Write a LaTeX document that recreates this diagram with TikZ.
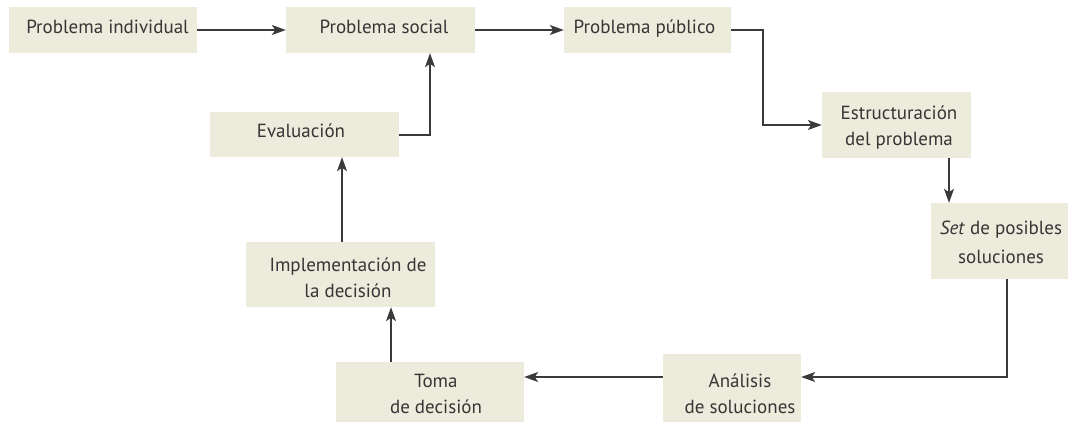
\documentclass[tikz,border=0pt]{standalone}
\usepackage{fontspec}
\setmainfont{PT Sans}
\usetikzlibrary{arrows.meta,calc}
\definecolor{boxfill}{HTML}{ECEBDC}
\definecolor{ink}{HTML}{363636}
\definecolor{wire}{HTML}{3A3A3A}
\begin{document}
\begin{tikzpicture}[x=1pt,y=-1pt,
  box/.style={fill=boxfill, draw=none, inner sep=0pt},
  txt/.style={text=ink, font=\fontsize{19}{26}\selectfont, inner sep=0pt, align=center},
  conn/.style={draw=wire, line width=1.3pt, -{Stealth[length=14pt,width=10pt,inset=3.5pt]}}]
\useasboundingbox (0,0) rectangle (1068,422);
% boxes
\node[box, minimum width=188, minimum height=46] (pi) at (103,30) {};
\node[box, minimum width=189, minimum height=46] (ps) at (380.5,30) {};
\node[box, minimum width=167, minimum height=46] (pp) at (647.5,30) {};
\node[box, minimum width=189, minimum height=45] (ev) at (304.5,134.5) {};
\node[box, minimum width=149, minimum height=66] (es) at (896.5,125) {};
\node[box, minimum width=137, minimum height=76] (st) at (999.5,241) {};
\node[box, minimum width=189, minimum height=65] (im) at (340.5,274.5) {};
\node[box, minimum width=188, minimum height=60] (tm) at (430,392) {};
\node[box, minimum width=138, minimum height=68] (an) at (732,388) {};
% texts
\node[txt, anchor=base] (pit) at (107.5,34) {Problema individual};
\node[txt, anchor=base] (pst) at (384,34) {Problema social};
\node[txt, anchor=base] (ppt) at (644.5,34) {Problema público};
\node[txt, anchor=base] (evt) at (301,138) {Evaluación};
\node[txt] (est) at (899,128) {Estructuración\\del problema};
\node[txt, font=\fontsize{19}{29}\selectfont] (stt) at (1001,242) {\textit{Set} de posibles\\soluciones};
\node[txt] (imt) at (348,278) {Implementación de\\la decisión};
\node[txt] (tmt) at (436,394) {Toma\\de decisión};
\node[txt] (ant) at (740,394) {Análisis\\de soluciones};
% bend points
\coordinate (b1) at (763,30);
\coordinate (b2) at (949,0);
\coordinate (b3) at (1007,377);
\coordinate (b4) at (391,0);
\coordinate (b5) at (342,0);
\coordinate (b6) at (430,135);
% connectors
\draw[conn] (pi.east) -- (ps.west);
\draw[conn] (ps.east) -- (pp.west);
\draw[conn] (pp.east) -- (b1) |- (es.west);
\draw[conn] (es.south -| b2) -- (st.north -| b2);
\draw[conn] (st.south -| b3) -- (b3) -- (an.east |- b3);
\draw[conn] (an.west |- b3) -- (tm.east |- b3);
\draw[conn] (tm.north -| b4) -- (im.south -| b4);
\draw[conn] (im.north -| b5) -- (ev.south -| b5);
\draw[conn] (ev.east |- b6) -- (b6) -- (ps.south -| b6);
\end{tikzpicture}
\end{document}
